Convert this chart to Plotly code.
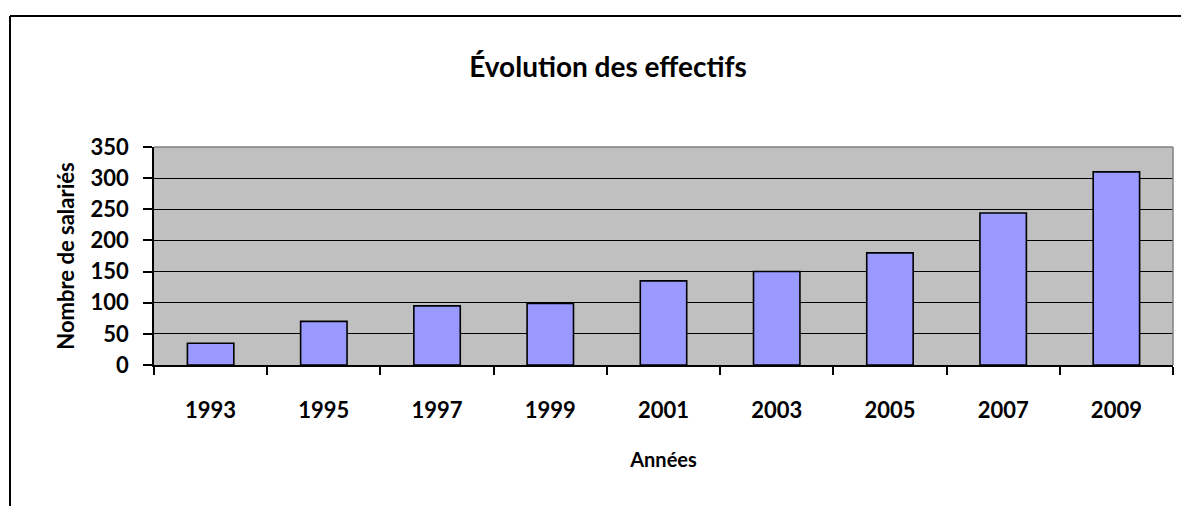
import plotly.graph_objects as go

years = ["1993", "1995", "1997", "1999", "2001", "2003", "2005", "2007", "2009"]
salaries = [35, 70, 95, 99, 135, 150, 180, 244, 310]
y_ticks = [0, 50, 100, 150, 200, 250, 300, 350]

# page body has an 8px margin, so figure coords = screen coords - 8
OFF = 8
W, H = 1189 - OFF, 506 - OFF
L, T = 154 - OFF, 147 - OFF
pw, ph = 1173 - 154, 365 - 147
R, B = W - L - pw, H - T - ph

FONT = "Lato"

fig = go.Figure(go.Bar(
    x=years, y=salaries,
    marker=dict(color="#9999FF", line=dict(color="black", width=1.6)),
    width=0.41,
))

# outer chart frame (left and top visible, right/bottom cut off)
bx0 = (10 - 154) / pw
by1 = (365 - 16) / ph
fig.add_shape(type="line", xref="paper", yref="paper", x0=bx0, x1=bx0, y0=by1, y1=-2,
              line=dict(color="black", width=2))
fig.add_shape(type="line", xref="paper", yref="paper", x0=bx0, x1=2, y0=by1, y1=by1,
              line=dict(color="black", width=2))
# plot area border (top & right grey)
fig.add_shape(type="line", xref="paper", yref="paper", x0=0, x1=1, y0=1, y1=1,
              line=dict(color="#808080", width=1.5), layer="above")
fig.add_shape(type="line", xref="paper", yref="paper", x0=1, x1=1, y0=0, y1=1,
              line=dict(color="#808080", width=1.5), layer="above")

bold = dict(family=FONT, color="black", weight="bold")

fig.update_layout(
    width=W, height=H,
    margin=dict(l=L, r=R, t=T, b=B, pad=0),
    paper_bgcolor="white",
    plot_bgcolor="#C0C0C0",
    showlegend=False,
    font=dict(family=FONT, color="black"),
    title=dict(text="Évolution des effectifs", x=(608 - OFF) / W, xanchor="center",
               y=1 - (67 - OFF) / H, yanchor="middle", yref="container",
               font=dict(size=28, **bold)),
    xaxis=dict(
        type="category",
        tickson="boundaries",
        ticks="outside", ticklen=8, tickwidth=1.5, tickcolor="black",
        showline=True, linecolor="black", linewidth=1.5,
        showgrid=False,
        tickfont=dict(size=22, **bold),
        ticklabelstandoff=25,
        title=dict(text="Années", font=dict(size=20, **bold), standoff=31),
        range=[-0.5, len(years) - 0.5],
    ),
    yaxis=dict(
        range=[0, 350],
        tickvals=y_ticks,
        ticks="outside", ticklen=9, tickwidth=1.5, tickcolor="black",
        showline=True, linecolor="black", linewidth=1.5,
        showgrid=True, gridcolor="black", gridwidth=1.2,
        zeroline=False,
        tickfont=dict(size=22, **bold),
        ticklabelstandoff=10,
        title=dict(text="Nombre de salariés", font=dict(size=22, **bold), standoff=10),
    ),
)

fig.write_html("out.html")
